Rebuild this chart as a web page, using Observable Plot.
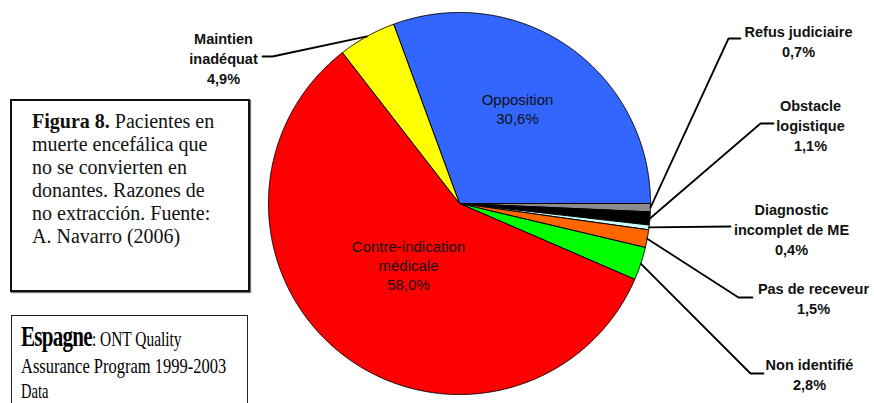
<!DOCTYPE html>
<html>
<head>
<meta charset="utf-8">
<script src="https://cdn.jsdelivr.net/npm/d3@7"></script>
<script src="https://cdn.jsdelivr.net/npm/@observablehq/plot@0.6"></script>
<style>
  html, body { margin: 0; padding: 0; background: #fff; }
  #wrap { position: relative; width: 874px; height: 403px; overflow: hidden; background: #fff; }
  #chart { position: absolute; left: 0; top: 0; }
  .box { position: absolute; background: #fff; box-sizing: border-box; }
  #fig { left: 10px; top: 99px; width: 240px; height: 193px; border: 2px solid #111; box-shadow: 1px 1px 1px #777; }
  #fig .txt { position: absolute; left: 20px; top: 9px; font-family: "Liberation Serif", serif; font-size: 20px; line-height: 23px; color: #111; white-space: nowrap; }
  #esp { left: 11px; top: 315px; width: 237px; height: 110px; border: 1.5px solid #222; }
  #esp .ln { position: absolute; left: 9px; font-family: "Liberation Serif", serif; font-size: 22px; line-height: 26px; color: #000; white-space: nowrap; transform-origin: 0 100%; }
</style>
</head>
<body>
<div id="wrap">
  <div id="chart"></div>
  <div class="box" id="fig"><div class="txt"><b>Figura 8.</b> Pacientes en<br>muerte encefálica que<br>no se convierten en<br>donantes. Razones de<br>no extracción. Fuente:<br>A. Navarro (2006)</div></div>
  <div class="box" id="esp">
    <div class="ln" style="top:7px;transform:scaleX(0.7)"><b style="font-size:30px;letter-spacing:-1px">Espagne</b>: ONT Quality</div>
    <div class="ln" style="top:37px;transform:scaleX(0.75)">Assurance Program 1999-2003</div>
    <div class="ln" style="top:62px;transform:scaleX(0.66)">Data</div>
  </div>
</div>
<script>
// ---- data ----
const categories = ["Opposition", "Refus judiciaire", "Obstacle logistique", "Diagnostic incomplet de ME", "Pas de receveur", "Non identifié", "Contre-indication médicale", "Maintien inadéquat"];
const values = [30.6, 0.7, 1.1, 0.4, 1.5, 2.8, 58.0, 4.9];
const colors = ["#3366FF", "#8C8C8C", "#000000", "#CCFFFF", "#FF6600", "#00FF00", "#FF0000", "#FFFF00"];
const labelLines = [["Opposition"], ["Refus judiciaire"], ["Obstacle", "logistique"], ["Diagnostic", "incomplet de ME"], ["Pas de receveur"], ["Non identifié"], ["Contre-indication", "médicale"], ["Maintien", "inadéquat"]];

// ---- layout ----
const cx = 459, cy = 203, R = 191;
const startDeg = -20.16;
const inside = [true, false, false, false, false, false, true, false];
const labelXY = [[517, 107.5], [798, 40.5], [810, 124], [791, 228], [813, 297.5], [809, 373.5], [408, 264.5], [223, 57]];
const leaderTail = [null, [[728, 38], [740, 38]], [[760, 123], [773, 123]], [[730, 226]], [[738, 297], [752, 297]], [[750, 373], [763, 373]], null, [[272, 56], [262, 56]]];

const fmt = v => v.toFixed(1).replace(".", ",") + "%";
const rad = d => d * Math.PI / 180;

const rows = categories.map((c, i) => ({category: c, value: values[i], color: colors[i], i}));
const arcs = d3.pie().sort(null).value(d => d.value).startAngle(rad(startDeg)).endAngle(rad(startDeg + 360))(rows);

const polar = (a, r) => ({x: cx + r * Math.sin(a), y: cy - r * Math.cos(a)});

const sliceMarks = arcs.map(a => {
  const pts = [polar(0, 0)];
  const n = Math.max(2, Math.ceil((a.endAngle - a.startAngle) / rad(0.25)));
  for (let k = 0; k <= n; k++) pts.push(polar(a.startAngle + (a.endAngle - a.startAngle) * k / n, R));
  pts.push(polar(0, 0));
  return Plot.line(pts, {x: "x", y: "y", fill: a.data.color, stroke: "#000", strokeWidth: 1, strokeLinejoin: "round"});
});

const leaders = arcs.filter(a => !inside[a.data.i]).flatMap(a => {
  const mid = (a.startAngle + a.endAngle) / 2;
  const p = polar(mid, R);
  return [{category: a.data.category, ...p}, ...leaderTail[a.data.i].map(([x, y]) => ({category: a.data.category, x, y}))];
});

const labels = rows.map(r => ({
  text: [...labelLines[r.i], fmt(r.value)].join("\n"),
  x: labelXY[r.i][0], y: labelXY[r.i][1], inside: inside[r.i]
}));

const chart = Plot.plot({
  width: 874, height: 403, margin: 0,
  style: {background: "transparent", overflow: "visible"},
  x: {domain: [0, 874], range: [0, 874], axis: null},
  y: {domain: [0, 403], range: [0, 403], axis: null},
  marks: [
    ...sliceMarks,
    Plot.line(leaders, {x: "x", y: "y", z: "category", stroke: "#000", strokeWidth: 1.8}),
    Plot.text(labels.filter(d => d.inside), {x: "x", y: "y", text: "text", fontSize: 15, lineHeight: 1.27, fill: "#111", fontFamily: "Liberation Sans, Arial, sans-serif"}),
    Plot.text(labels.filter(d => !d.inside), {x: "x", y: "y", text: "text", fontSize: 14.5, fontWeight: "bold", lineHeight: 1.38, fill: "#111", fontFamily: "Liberation Sans, Arial, sans-serif"})
  ]
});
document.getElementById("chart").appendChild(chart);
</script>
</body>
</html>
